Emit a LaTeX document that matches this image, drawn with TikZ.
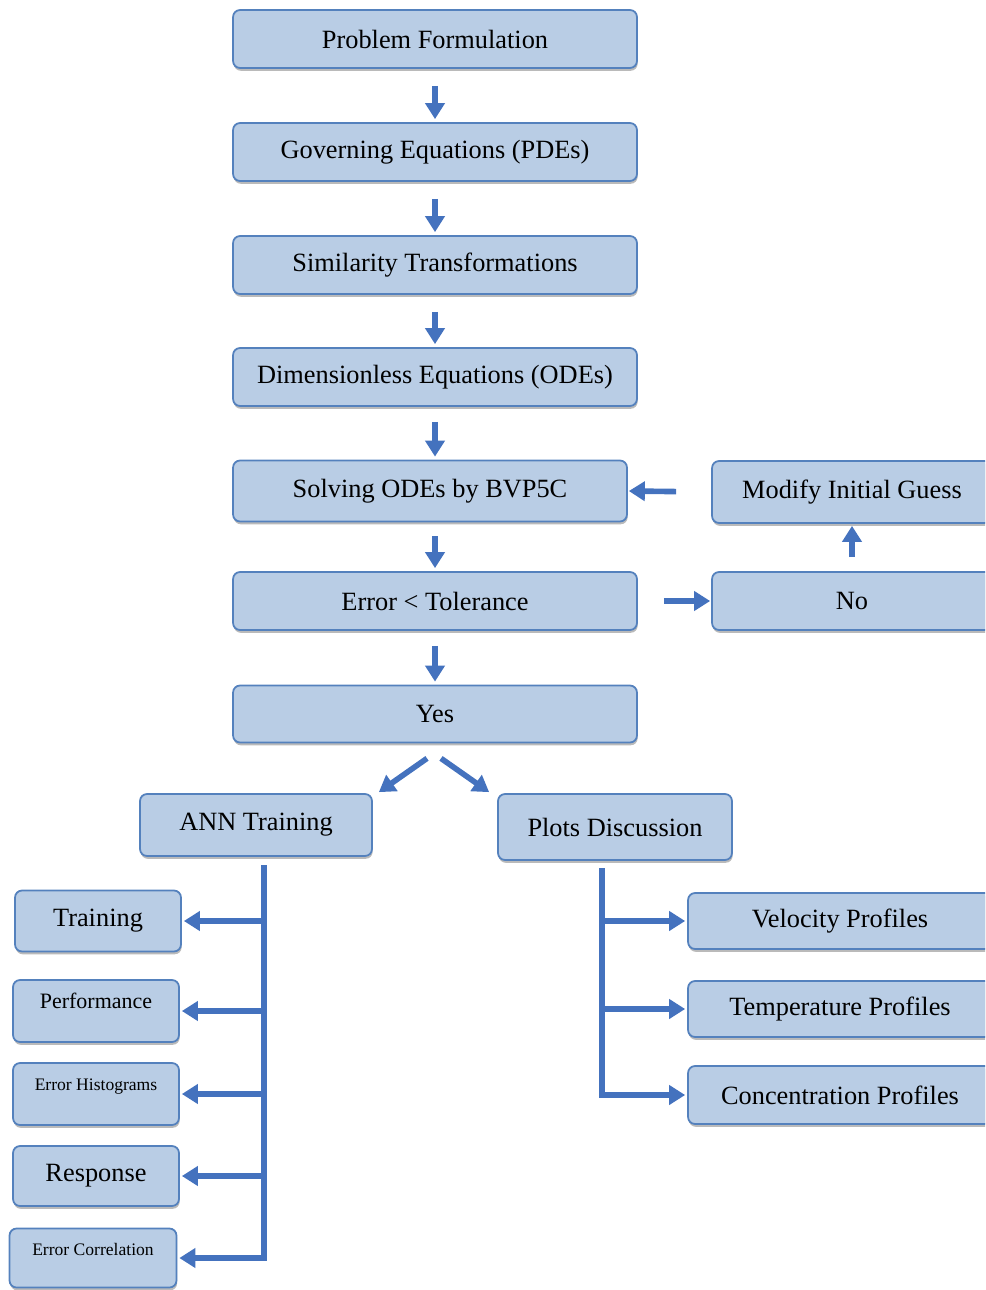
\documentclass[tikz,border=0pt]{standalone}
\usepackage{fontspec}
\setmainfont{Liberation Serif}
\usetikzlibrary{arrows.meta,shadows}
\definecolor{boxfill}{RGB}{185,205,229}
\definecolor{boxline}{RGB}{84,129,189}
\definecolor{arrowblue}{RGB}{68,114,190}

\begin{document}
\begin{tikzpicture}[x=0.02cm, y=-0.02cm, >={Triangle[length=0.32cm,width=0.38cm]},
        box/.style={draw=boxline, fill=boxfill, line width=1pt, rounded corners=4pt, inner sep=0pt,
                minimum width=8.08cm, minimum height=1.16cm, font=\fontsize{15}{18}\selectfont,
                drop shadow={shadow xshift=0.4pt, shadow yshift=-1.6pt, opacity=0.45, fill=black!60}},
        hi/.style={text height=0.27cm, text depth=#1},
        arr/.style={->, draw=arrowblue, line width=3.2pt},
        stem/.style={draw=arrowblue, line width=3.2pt}]
        \useasboundingbox (0,0) rectangle (985,1290);
        \clip (0,0) rectangle (985,1290);

        \path
        (435,39)  node[box] (pf) {Problem Formulation}
        (435,152) node[box] (ge) {Governing Equations (PDEs)}
        (435,265) node[box] (st) {Similarity Transformations}
        (435,377) node[box] (de) {Dimensionless Equations (ODEs)}
        (430,491) node[box, minimum width=7.88cm, minimum height=1.22cm] (so) {Solving ODEs by BVP5C}
        (435,601) node[box] (et) {Error < Tolerance}
        (435,714) node[box, minimum height=1.14cm] (ys) {Yes}
        (852,492) node[box, minimum width=5.6cm, minimum height=1.24cm] (mg) {Modify Initial Guess}
        (852,601) node[box, minimum width=5.6cm] (no) {No}
        ;
        \path
        (256,825)  node[box, minimum width=4.64cm, minimum height=1.24cm] (ann) {ANN Training}
        (615,827)  node[box, minimum width=4.68cm, minimum height=1.32cm] (plt) {Plots Discussion}
        (98,921)   node[box, minimum width=3.32cm, minimum height=1.22cm] (tr) {Training}
        (96,1011)  node[box, minimum width=3.32cm, minimum height=1.24cm, hi=0.36cm,
                font=\fontsize{12.5}{15}\selectfont] (pe) {Performance}
        (96,1094)  node[box, minimum width=3.32cm, minimum height=1.24cm, hi=0.43cm,
                font=\fontsize{10}{12}\selectfont] (eh) {Error Histograms}
        (96,1176)  node[box, minimum width=3.32cm, minimum height=1.2cm] (rs) {Response}
        (93,1258)  node[box, minimum width=3.34cm, minimum height=1.18cm, hi=0.38cm,
                font=\fontsize{10}{12}\selectfont] (ec) {Error Correlation}
        (840,921)  node[box, minimum width=6.08cm, minimum height=1.12cm] (vp) {Velocity Profiles}
        (840,1009) node[box, minimum width=6.08cm, minimum height=1.12cm] (tp) {Temperature Profiles}
        (840,1095) node[box, minimum width=6.08cm] (cp) {Concentration Profiles}
        ;
        \coordinate (lt) at (264,865);
        \coordinate (rt) at (602,868);

        \draw[arr, shorten <=0.34cm, shorten >=0.06cm] (pf) -- (ge);
        \draw[arr, shorten <=0.34cm, shorten >=0.06cm] (ge) -- (st);
        \draw[arr, shorten <=0.34cm, shorten >=0.06cm] (st) -- (de);
        \draw[arr, shorten <=0.3cm, shorten >=0.06cm] (de.south) -- (so.north -| de);
        \draw[arr, shorten <=0.28cm, shorten >=0.06cm] (so.south -| et) -- (et.north);
        \draw[arr, shorten <=0.3cm, shorten >=0.06cm] (et) -- (ys);

        \draw[arr, shorten <=0.52cm, shorten >=0.02cm] (et.east) -- (no.west);
        \draw[arr, shorten <=0.28cm, shorten >=0.04cm] (no.north) -- (mg.south);
        \draw[arr, shorten <=0.7cm, shorten >=0.02cm] (mg.west) -- (so.east);

        \draw[arr] ([shift={(-8,15)}]ys.south) -- ([shift={(6,-1)}]ann.north east);
        \draw[arr] ([shift={(6,15)}]ys.south) -- ([shift={(-8,-1)}]plt.north west);

        \draw[arr, shorten >=0.04cm] (lt) |- (ec.east);
        \draw[arr, shorten >=0.04cm] (lt |- tr.east) -- (tr.east);
        \draw[arr, shorten >=0.04cm] (lt |- pe.east) -- (pe.east);
        \draw[arr, shorten >=0.04cm] (lt |- eh.east) -- (eh.east);
        \draw[arr, shorten >=0.04cm] (lt |- rs.east) -- (rs.east);

        \draw[arr, shorten >=0.04cm] (rt) |- (cp.west);
        \draw[arr, shorten >=0.04cm] (rt |- vp.west) -- (vp.west);
        \draw[arr, shorten >=0.04cm] (rt |- tp.west) -- (tp.west);
\end{tikzpicture}
\end{document}
